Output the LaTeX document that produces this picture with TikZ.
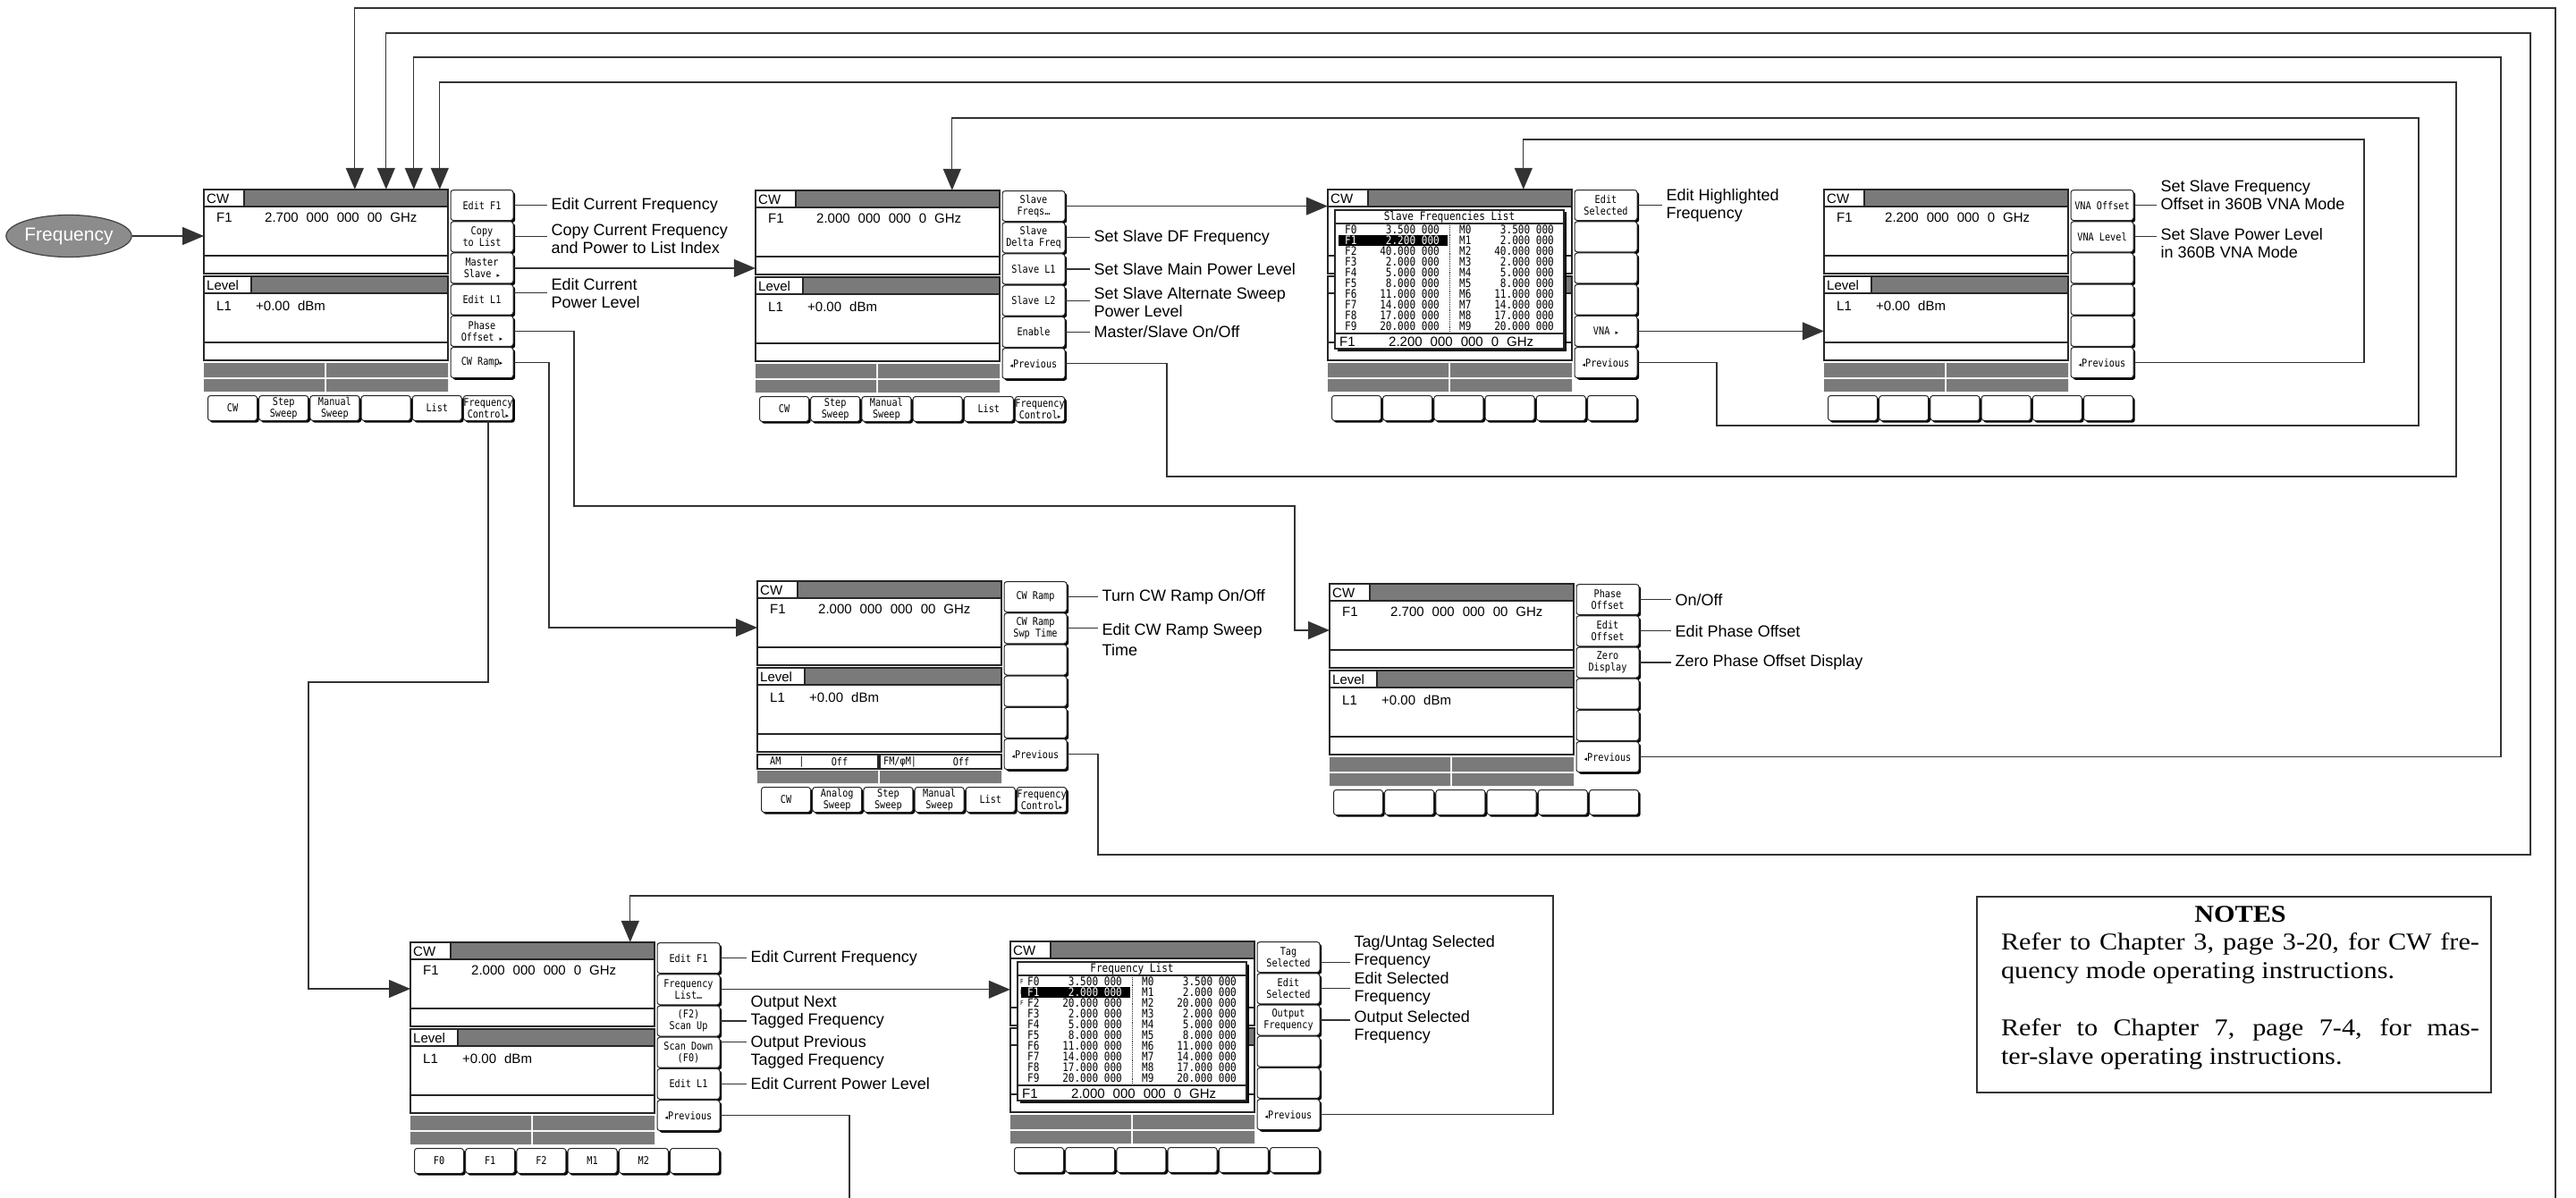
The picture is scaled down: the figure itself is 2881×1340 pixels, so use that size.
\documentclass[tikz,border=0pt]{standalone}
\usepackage{fontspec}
\setmainfont{Liberation Sans}
\newfontfamily\skfont[FakeStretch=0.85]{DejaVu Sans Mono}
\newfontfamily\arrowglyphs{DejaVu Sans}
\newfontfamily\notesfont[FakeStretch=1.12]{Liberation Serif}
\usetikzlibrary{arrows.meta, positioning, shapes.geometric, shadows}

% font set-ups
\newcommand{\keyfmt}{\skfont\fontsize{12}{13}\selectfont}
\newcommand{\listfmt}{\skfont\fontsize{13}{12}\selectfont}
\newcommand{\tagfmt}{\skfont\fontsize{7}{7}\selectfont}
\newcommand{\dispfmt}{\fontsize{15}{17}\selectfont\spaceskip=9pt\relax}
\newcommand{\lblfmt}{\fontsize{18}{20}\selectfont}
\newcommand{\ovalfmt}{\fontsize{21}{23}\selectfont}
\newcommand{\notefmt}{\notesfont\fontsize{27}{32}\selectfont}
\newcommand{\nextmark}{{\arrowglyphs\fontsize{7}{7}\selectfont\char"25B8}}
\newcommand{\prevmark}{{\arrowglyphs\fontsize{7}{7}\selectfont\char"25C2}}

\tikzset{
    >={Triangle[length=24pt,width=20pt]},
    % Screen parts
    panel/.style={draw=black!85, line width=1.1pt},
    hdr/.style={fill=black!52},
    dispbox/.style={rectangle, minimum width=273pt, minimum height=191pt, inner sep=0pt},
    dtxt/.style={font=\dispfmt, inner sep=0pt},
    softkey/.style={rectangle, rounded corners=3pt, draw=black!85, line width=1pt, fill=white,
                    minimum width=70pt, minimum height=34pt, inner sep=0pt, align=center, font=\keyfmt,
                    drop shadow={shadow xshift=2.2pt, shadow yshift=-2.2pt, opacity=1, fill=black}},
    botkey/.style={softkey, minimum width=55pt, minimum height=28pt},
    listwin/.style={rectangle, draw=black!85, line width=1.1pt, fill=white,
                    minimum width=256pt, minimum height=155pt, inner sep=0pt,
                    drop shadow={shadow xshift=2.5pt, shadow yshift=-2.5pt, opacity=1, fill=black}},
    ltxt/.style={font=\listfmt, inner sep=0pt},
    tagtxt/.style={font=\tagfmt, inner sep=0pt, anchor=west},
    amtxt/.style={font=\keyfmt, inner sep=0pt},
    % Flow & Labels
    oval/.style={ellipse, draw=black!75, line width=1.2pt, fill=black!45, text=white,
                 minimum width=124pt, minimum height=47pt, inner sep=0pt, font=\ovalfmt},
    lbl/.style={font=\lblfmt, align=left, inner sep=0pt, anchor=west},
    tick/.style={draw=black!80, line width=1.2pt, shorten >=5pt},
    conn/.style={draw=black!80, line width=1.3pt},
    flow/.style={conn, ->},
    notebox/.style={rectangle, draw=black!80, line width=1.2pt, minimum width=575pt, minimum height=219pt},
    notetext/.style={text width=535pt, inner sep=0pt, align=justify, font=\notefmt, anchor=north}
}

% screen frame: name, origin, softkeys, bottom keys
\newcommand{\lcdframe}[4]{%
\begin{scope}[shift={#2}]
  \node[dispbox] (#1) at (136.5,95.5) {};
  \coordinate (#1in) at (0,52);
  \fill[hdr] (45,0) rectangle (273,19);
  \fill[hdr] (53,97) rectangle (273,116);
  \draw[panel] (0,0) rectangle (273,94) (0,19) -- (273,19) (0,74) -- (273,74) (45,0) -- (45,19);
  \draw[panel] (0,97) rectangle (273,191) (0,116) -- (273,116) (0,171) -- (273,171);
  \fill[hdr] (0,194) rectangle (135,210) (137,194) rectangle (273,210)
             (0,212) rectangle (135,226) (137,212) rectangle (273,226);
  \node[dtxt, anchor=west] (#1cw) at (3,10) {CW};
  \foreach \lab [count=\i] in {#3}
    \node[softkey] (#1k\i) at (311,{17.6+35.2*(\i-1)}) {\lab};
  \foreach \lab [count=\i] in {#4}
    \node[botkey] (#1b\i) at ({32+57.2*(\i-1)},244.5) {\lab};
\end{scope}}

% readout: name, origin, frequency
\newcommand{\lcdread}[3]{%
\begin{scope}[shift={#2}]
  \draw[panel] (53,97) -- (53,116);
  \node[dtxt, anchor=west] (#1lv) at (3,107) {Level};
  \node[dtxt, anchor=west] (#1f) at (14,31) {F1};
  \node[dtxt, anchor=west] (#1fv) at (68,31) {#3};
  \node[dtxt, anchor=west] (#1l) at (14,130) {L1};
  \node[dtxt, anchor=west] (#1lval) at (58,130) {+0.00 dBm};
\end{scope}}

% list window: name, origin, title, rows, tagged rows, readout
\newcommand{\flist}[6]{%
\begin{scope}[shift={#2}]
  \node[listwin] (#1w) at (136,100.5) {};
  \draw[panel] (8,38) -- (264,38) (8,161) -- (264,161);
  \draw[panel, densely dotted, line width=0.8pt] (136,40) -- (136,159);
  \node[ltxt] (#1tt) at (136,30.5) {#3};
  \fill[black] (12,51) rectangle (134,63);
  \foreach \fv/\mv [count=\rw from 0] in {#4} {
    \ifnum\rw=1 \def\rc{white}\else\def\rc{black}\fi
    \ifnum\rw<#5 \node[tagtxt] (#1g\rw) at (11,{45+12*\rw}) {F};\fi
    \node[ltxt, anchor=west, text=\rc] (#1f\rw) at (19,{45+12*\rw}) {F\rw};
    \node[ltxt, anchor=east, text=\rc] (#1fv\rw) at (125,{45+12*\rw}) {\fv};
    \node[ltxt, anchor=west] (#1m\rw) at (147,{45+12*\rw}) {M\rw};
    \node[ltxt, anchor=east] (#1mv\rw) at (253,{45+12*\rw}) {\mv};
  }
  \node[dtxt, anchor=west] (#1bf) at (13,170) {F1};
  \node[dtxt, anchor=west] (#1bv) at (68,170) {#6};
\end{scope}}

\begin{document}
\begin{tikzpicture}[x=1pt, y=-1pt]
\useasboundingbox (0,0) rectangle (2881,1340);

% screens
\lcdframe{s1}{(228,212)}{Edit F1,{Copy\\to List},{Master\\Slave \nextmark},Edit L1,{Phase\\Offset \nextmark},CW Ramp\nextmark}{CW,{Step\\Sweep},{Manual\\Sweep},{},List,{Frequency\\Control\nextmark}}
\lcdread{s1}{(228,212)}{2.700 000 000 00 GHz}

\lcdframe{s2}{(845,213)}{{Slave\\Freqs\ldots},{Slave\\Delta Freq},Slave L1,Slave L2,Enable,\prevmark Previous}{CW,{Step\\Sweep},{Manual\\Sweep},{},List,{Frequency\\Control\nextmark}}
\lcdread{s2}{(845,213)}{2.000 000 000 0 GHz}

\lcdframe{s3}{(1485,212)}{{Edit\\Selected},{},{},{},VNA \nextmark,\prevmark Previous}{{},{},{},{},{},{}}
\flist{s3l}{(1485,212)}{Slave Frequencies List}{3.500 000/3.500 000,2.200 000/2.000 000,40.000 000/40.000 000,2.000 000/2.000 000,5.000 000/5.000 000,8.000 000/8.000 000,11.000 000/11.000 000,14.000 000/14.000 000,17.000 000/17.000 000,20.000 000/20.000 000}{0}{2.200 000 000 0 GHz}

\lcdframe{s4}{(2040,212)}{VNA Offset,VNA Level,{},{},{},\prevmark Previous}{{},{},{},{},{},{}}
\lcdread{s4}{(2040,212)}{2.200 000 000 0 GHz}

\lcdframe{s5}{(847,650)}{CW Ramp,{CW Ramp\\Swp Time},{},{},{},\prevmark Previous}{CW,{Analog\\Sweep},{Step\\Sweep},{Manual\\Sweep},List,{Frequency\\Control\nextmark}}
\lcdread{s5}{(847,650)}{2.000 000 000 00 GHz}
\begin{scope}[shift={(847,650)}]
  \draw[panel, fill=white] (0,194) rectangle (135,210) (137,194) rectangle (273,210);
  \node[amtxt, anchor=west] (s5am) at (14,202) {AM\hspace{20pt}|};
  \node[amtxt] (s5amv) at (92,202) {Off};
  \node[amtxt, anchor=west] (s5fm) at (141,202) {FM/φM|};
  \node[amtxt] (s5fmv) at (228,202) {Off};
\end{scope}

\lcdframe{s6}{(1487,653)}{{Phase\\Offset},{Edit\\Offset},{Zero\\Display},{},{},\prevmark Previous}{{},{},{},{},{},{}}
\lcdread{s6}{(1487,653)}{2.700 000 000 00 GHz}

\lcdframe{s7}{(459,1054)}{Edit F1,{Frequency\\List\ldots},{(F2)\\Scan Up},{Scan Down\\(F0)},Edit L1,\prevmark Previous}{F0,F1,F2,M1,M2,{}}
\lcdread{s7}{(459,1054)}{2.000 000 000 0 GHz}

\lcdframe{s8}{(1130,1053)}{{Tag\\Selected},{Edit\\Selected},{Output\\Frequency},{},{},\prevmark Previous}{{},{},{},{},{},{}}
\flist{s8l}{(1130,1053)}{Frequency List}{3.500 000/3.500 000,2.000 000/2.000 000,20.000 000/20.000 000,2.000 000/2.000 000,5.000 000/5.000 000,8.000 000/8.000 000,11.000 000/11.000 000,14.000 000/14.000 000,17.000 000/17.000 000,20.000 000/20.000 000}{3}{2.000 000 000 0 GHz}

% entry
\node[oval] (freq) at (77,264) {Frequency};
\draw[flow] (freq) -- (s1in);

% labels, screen 1
\node[lbl, right=42pt of s1k1] (s1t1) {Edit Current Frequency};
\node[lbl, right=42pt of s1k2, yshift=-3pt] (s1t2) {Copy Current Frequency\\and Power to List Index};
\node[lbl, right=42pt of s1k4, yshift=7pt] (s1t4) {Edit Current\\Power Level};
\draw[tick] (s1k1.east) -- (s1k1.east -| s1t1.west);
\draw[tick] (s1k2.east) -- (s1k2.east -| s1t2.west);
\draw[tick] ([yshift=8pt]s1k4.east) -- ([yshift=8pt]s1k4.east -| s1t4.west);

% labels, screen 2
\node[lbl, right=32pt of s2k2] (s2t2) {Set Slave DF Frequency};
\node[lbl, right=32pt of s2k3] (s2t3) {Set Slave Main Power Level};
\node[lbl, right=32pt of s2k4, yshift=-2pt] (s2t4) {Set Slave Alternate Sweep\\Power Level};
\node[lbl, right=32pt of s2k5] (s2t5) {Master/Slave On/Off};
\foreach \n in {2,3,4,5}
  \draw[tick] (s2k\n.east) -- (s2k\n.east -| s2t\n.west);

% labels, screen 3 and 4
\node[lbl, right=32pt of s3k1] (s3t1) {Edit Highlighted\\Frequency};
\draw[tick] (s3k1.east) -- (s3k1.east -| s3t1.west);
\node[lbl, right=30pt of s4k1, yshift=12pt] (s4t1) {Set Slave Frequency\\Offset in 360B VNA Mode};
\node[lbl, right=30pt of s4k2, yshift=-7pt] (s4t2) {Set Slave Power Level\\in 360B VNA Mode};
\draw[tick] (s4k1.east) -- (s4k1.east -| s4t1.west);
\draw[tick] (s4k2.east) -- (s4k2.east -| s4t2.west);

% labels, screen 5 and 6
\node[lbl, right=39pt of s5k1] (s5t1) {Turn CW Ramp On/Off};
\node[lbl, right=39pt of s5k2, yshift=-13pt] (s5t2) {Edit CW Ramp Sweep\\[3pt]Time};
\draw[tick] (s5k1.east) -- (s5k1.east -| s5t1.west);
\draw[tick] (s5k2.east) -- (s5k2.east -| s5t2.west);
\node[lbl, right=40pt of s6k1] (s6t1) {On/Off};
\node[lbl, right=40pt of s6k2] (s6t2) {Edit Phase Offset};
\node[lbl, right=40pt of s6k3] (s6t3) {Zero Phase Offset Display};
\foreach \n in {1,2,3}
  \draw[tick] (s6k\n.east) -- (s6k\n.east -| s6t\n.west);

% labels, screen 7 and 8
\node[lbl, right=34pt of s7k1] (s7t1) {Edit Current Frequency};
\node[lbl, right=34pt of s7k3, yshift=10pt] (s7t3) {Output Next\\Tagged Frequency};
\node[lbl, right=34pt of s7k4] (s7t4) {Output Previous\\Tagged Frequency};
\node[lbl, right=34pt of s7k5] (s7t5) {Edit Current Power Level};
\draw[tick] (s7k1.east) -- (s7k1.east -| s7t1.west);
\draw[tick] (s7k3.east) -- (s7k3.east -| s7t3.west);
\draw[tick] ([yshift=12pt]s7k4.east) -- ([yshift=12pt]s7k4.east -| s7t4.west);
\draw[tick] (s7k5.east) -- (s7k5.east -| s7t5.west);
\node[lbl, right=38pt of s8k1, yshift=6pt] (s8t1) {Tag/Untag Selected\\Frequency};
\node[lbl, right=38pt of s8k2] (s8t2) {Edit Selected\\Frequency};
\node[lbl, right=38pt of s8k3, yshift=-8pt] (s8t3) {Output Selected\\Frequency};
\draw[tick] ([yshift=-6pt]s8k1.east) -- ([yshift=-6pt]s8k1.east -| s8t1.west);
\draw[tick] (s8k2.east) -- (s8k2.east -| s8t2.west);
\draw[tick] (s8k3.east) -- (s8k3.east -| s8t3.west);

% menu flow
\draw[flow] (s1k3.east) -- (s1k3.east -| s2.west);
\draw[flow] (s2k1.east) -- (s2k1.east -| s3.west);
\draw[flow] (s3k5.east) -- (s3k5.east -| s4.west);
\draw[flow] (s1k5.east) -| (642,566) -| ([xshift=-39pt]s6in) -- (s6in);
\draw[flow] (s1k6.east) -| ([xshift=-233pt]s5in) -- (s5in);
\draw[flow] (s1b6.south) |- (345,763) |- (s7in);
\draw[flow] (s7k2.east) -- (s7k2.east -| s8.west);
\draw[flow] (s8k6.east) -| (1737,1002) -| ([xshift=246pt]s7.north west);

% previous keys back up
\coordinate (outA) at (950,1340);
\coordinate (outB) at (2858,1340);
\draw[conn] (s7k6.east) -| (outA);
\draw[flow] (outB) -- (2858,9) -| ([xshift=169pt]s1.north west);
\draw[flow] (s5k6.east) -| (1228,956) -| (2830,37) -| ([xshift=204pt]s1.north west);
\draw[flow] (s6k6.east) -| (2797,64) -| ([xshift=235pt]s1.north west);
\draw[flow] (s2k6.east) -| (1305,533) -| (2747,92) -| ([xshift=264pt]s1.north west);
\draw[flow] (s3k6.east) -| (1920,476) -| (2705,132) -| ([xshift=220pt]s2.north west);
\draw[flow] (s4k6.east) -| (2644,156) -| ([xshift=219pt]s3.north west);

% notes
\node[notebox] (notes) at (2498.5,1112.5) {};
\node[notetext] (notestxt) at ([xshift=7pt, yshift=-11pt]notes.north) {{\centering\bfseries NOTES\par}\vspace{-1pt}
Refer to Chapter 3, page 3-20, for CW fre-\linebreak quency mode operating instructions.\par\vspace{32pt}
Refer to Chapter 7, page 7-4, for mas-\linebreak ter-slave operating instructions.};

\end{tikzpicture}
\end{document}
